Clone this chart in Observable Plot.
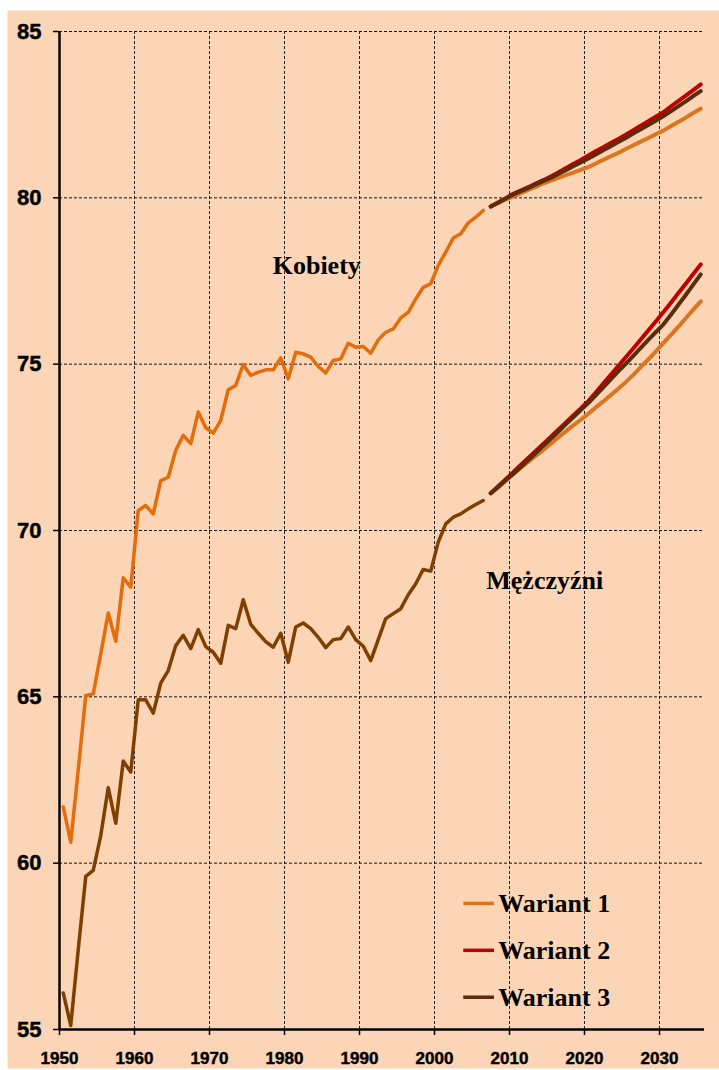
<!DOCTYPE html>
<html>
<head>
<meta charset="utf-8">
<script src="https://cdn.jsdelivr.net/npm/d3@7"></script>
<script src="https://cdn.jsdelivr.net/npm/@observablehq/plot@0.6"></script>
<style>
  body { margin: 0; background: #ffffff; }
  #chart svg { display: block; }
  #chart svg text { font-weight: bold !important; }
  #chart svg g[aria-label="x-axis tick label"] text,
  #chart svg g[aria-label="y-axis tick label"] text {
    font-family: "Liberation Sans", Arial, sans-serif;
    stroke: #000; stroke-width: 0.45px; paint-order: stroke;
  }
</style>
</head>
<body>
<div id="chart"></div>
<script>
// ---- Data ----
const histStartYear = 1950;
const projStartYear = 2007;

const womenHist = [
  61.69, 60.63, 62.8, 65.04, 65.09, 66.29, 67.52, 66.67, 68.58, 68.30,
  70.60, 70.75, 70.50, 71.50, 71.60, 72.41, 72.86, 72.61, 73.56, 73.09,
  72.93, 73.31, 74.23, 74.36, 74.99, 74.66, 74.76, 74.83, 74.83, 75.19,
  74.56, 75.36, 75.31, 75.21, 74.93, 74.74, 75.11, 75.16, 75.63, 75.51,
  75.53, 75.33, 75.73, 75.96, 76.06, 76.39, 76.56, 76.96, 77.31, 77.42,
  77.97, 78.37, 78.79, 78.92, 79.25, 79.42, 79.62
];
const menHist = [
  56.10, 55.12, 57.4, 59.60, 59.78, 60.83, 62.27, 61.20, 63.07, 62.74,
  64.91, 64.91, 64.51, 65.41, 65.79, 66.54, 66.85, 66.45, 67.02, 66.51,
  66.34, 66.01, 67.15, 67.05, 67.92, 67.18, 66.91, 66.66, 66.49, 66.91,
  66.04, 67.10, 67.22, 67.05, 66.79, 66.48, 66.72, 66.75, 67.10, 66.72,
  66.52, 66.09, 66.72, 67.35, 67.50, 67.65, 68.07, 68.40, 68.83, 68.78,
  69.65, 70.20, 70.40, 70.50, 70.65, 70.78, 70.90
];

// Projections 2007-2035
const womenW1 = [79.74, 79.85, 79.95, 80.04, 80.14, 80.24, 80.33, 80.43, 80.52, 80.60,
  80.68, 80.76, 80.84, 80.92, 81.03, 81.14, 81.25, 81.35, 81.47, 81.58,
  81.69, 81.80, 81.91, 82.02, 82.15, 82.28, 82.41, 82.55, 82.68];
const womenW2 = [79.74, 79.86, 79.99, 80.12, 80.22, 80.32, 80.43, 80.53, 80.64, 80.76,
  80.89, 81.02, 81.14, 81.27, 81.40, 81.52, 81.65, 81.77, 81.90, 82.03,
  82.17, 82.30, 82.44, 82.57, 82.74, 82.91, 83.07, 83.24, 83.41];
const womenW3 = [79.74, 79.86, 79.98, 80.10, 80.20, 80.30, 80.40, 80.50, 80.60, 80.72,
  80.83, 80.95, 81.06, 81.18, 81.30, 81.43, 81.55, 81.68, 81.80, 81.93,
  82.06, 82.19, 82.32, 82.45, 82.60, 82.75, 82.90, 83.06, 83.21];
const menW1 = [71.12, 71.30, 71.50, 71.70, 71.88, 72.06, 72.24, 72.42, 72.61, 72.80,
  72.98, 73.16, 73.33, 73.51, 73.70, 73.88, 74.07, 74.26, 74.46, 74.68,
  74.91, 75.14, 75.38, 75.63, 75.87, 76.12, 76.38, 76.64, 76.89];
const menW2 = [71.12, 71.33, 71.54, 71.75, 71.97, 72.18, 72.39, 72.60, 72.81, 73.03,
  73.24, 73.46, 73.67, 73.89, 74.15, 74.42, 74.68, 74.94, 75.21, 75.47,
  75.74, 76.01, 76.28, 76.56, 76.84, 77.13, 77.42, 77.71, 78.00];
const menW3 = [71.12, 71.31, 71.51, 71.70, 71.91, 72.12, 72.33, 72.55, 72.76, 72.97,
  73.19, 73.40, 73.62, 73.83, 74.06, 74.30, 74.54, 74.78, 75.01, 75.25,
  75.49, 75.73, 75.96, 76.19, 76.48, 76.78, 77.08, 77.39, 77.70];

const xTicks = [1950, 1960, 1970, 1980, 1990, 2000, 2010, 2020, 2030];
const yTicks = [55, 60, 65, 70, 75, 80, 85];

const legendLabels = ["Wariant 1", "Wariant 2", "Wariant 3"];
const variantColors = ["#DB7620", "#C00000", "#5A2D0C"];
const womenColor = "#E46C0A";
const menColor = "#7F3F00";

// ---- Build tables ----
const toRows = (arr, start, series) => arr.map((v, i) => ({year: start + i, value: v, series}));
const hist = [
  ...toRows(womenHist, histStartYear, "women"),
  ...toRows(menHist, histStartYear, "men")
];
const proj = [];
[[womenW1, menW1], [womenW2, menW2], [womenW3, menW3]].forEach(([w, m], k) => {
  proj.push(...toRows(w, projStartYear, legendLabels[k] + " K").map(d => ({...d, variant: k})));
  proj.push(...toRows(m, projStartYear, legendLabels[k] + " M").map(d => ({...d, variant: k})));
});
// category axis: each year sits in the middle of its slot
const xPos = d => d.year + 0.5;

const legend = legendLabels.map((label, k) => ({label, k, y: [58.79, 57.38, 55.97][k]}));

const serif = "'Liberation Serif', 'Times New Roman', serif";

const chart = Plot.plot({
  width: 719,
  height: 1070,
  marginLeft: 59,
  marginTop: 31,
  marginRight: 15,
  marginBottom: 41,
  style: {background: "#ffffff", fontFamily: "'Liberation Sans', Arial, sans-serif", color: "#000"},
  x: {domain: [1950, 2036], axis: null},
  y: {domain: [55, 85], axis: null},
  marks: [
    Plot.frame({fill: "#FBD5B5", stroke: null, insetLeft: -52, insetTop: -21, insetRight: -15, insetBottom: -39}),
    // grid
    Plot.ruleX(xTicks.filter(t => t > 1950), {stroke: "#222", strokeWidth: 1, strokeDasharray: "3,2"}),
    Plot.ruleY(yTicks.filter(t => t > 55), {stroke: "#111", strokeWidth: 1, strokeDasharray: "3,2"}),
    // axes
    Plot.axisY({ticks: yTicks, tickSize: 6, tickPadding: 12, fontSize: 22, fontWeight: "bold", strokeWidth: 1.5, tickFormat: d => String(d)}),
    Plot.axisX({ticks: xTicks, tickSize: 6, tickPadding: 16, fontSize: 17, fontWeight: "bold", strokeWidth: 1.5, tickFormat: d => String(d)}),
    Plot.ruleX([1950], {stroke: "#000", strokeWidth: 2.5}),
    Plot.ruleY([55], {stroke: "#000", strokeWidth: 2.5}),
    // historical lines
    Plot.line(hist, {x: xPos, y: "value", z: "series", stroke: d => d.series === "women" ? womenColor : menColor, strokeWidth: 3.5}),
    // projections
    Plot.line(proj, {x: xPos, y: "value", z: "series", stroke: d => variantColors[d.variant], strokeWidth: 4}),
    // annotations
    Plot.text(["Kobiety"], {x: 1984.3, y: 77.97, text: d => d, fontSize: 26, fontWeight: "bold", fontFamily: serif, fill: "#000"}),
    Plot.text(["Mężczyźni"], {x: 2014.7, y: 68.5, text: d => d, fontSize: 26, fontWeight: "bold", fontFamily: serif, fill: "#000"}),
    // legend
    Plot.ruleY(legend, {y: "y", x1: 2003.9, x2: 2008.0, stroke: d => variantColors[d.k], strokeWidth: 3.5}),
    Plot.text(legend, {x: 2008.5, y: "y", text: "label", textAnchor: "start", fontSize: 26, fontWeight: "bold", fontFamily: serif, fill: "#000"})
  ]
});
document.getElementById("chart").appendChild(chart);
</script>
</body>
</html>
